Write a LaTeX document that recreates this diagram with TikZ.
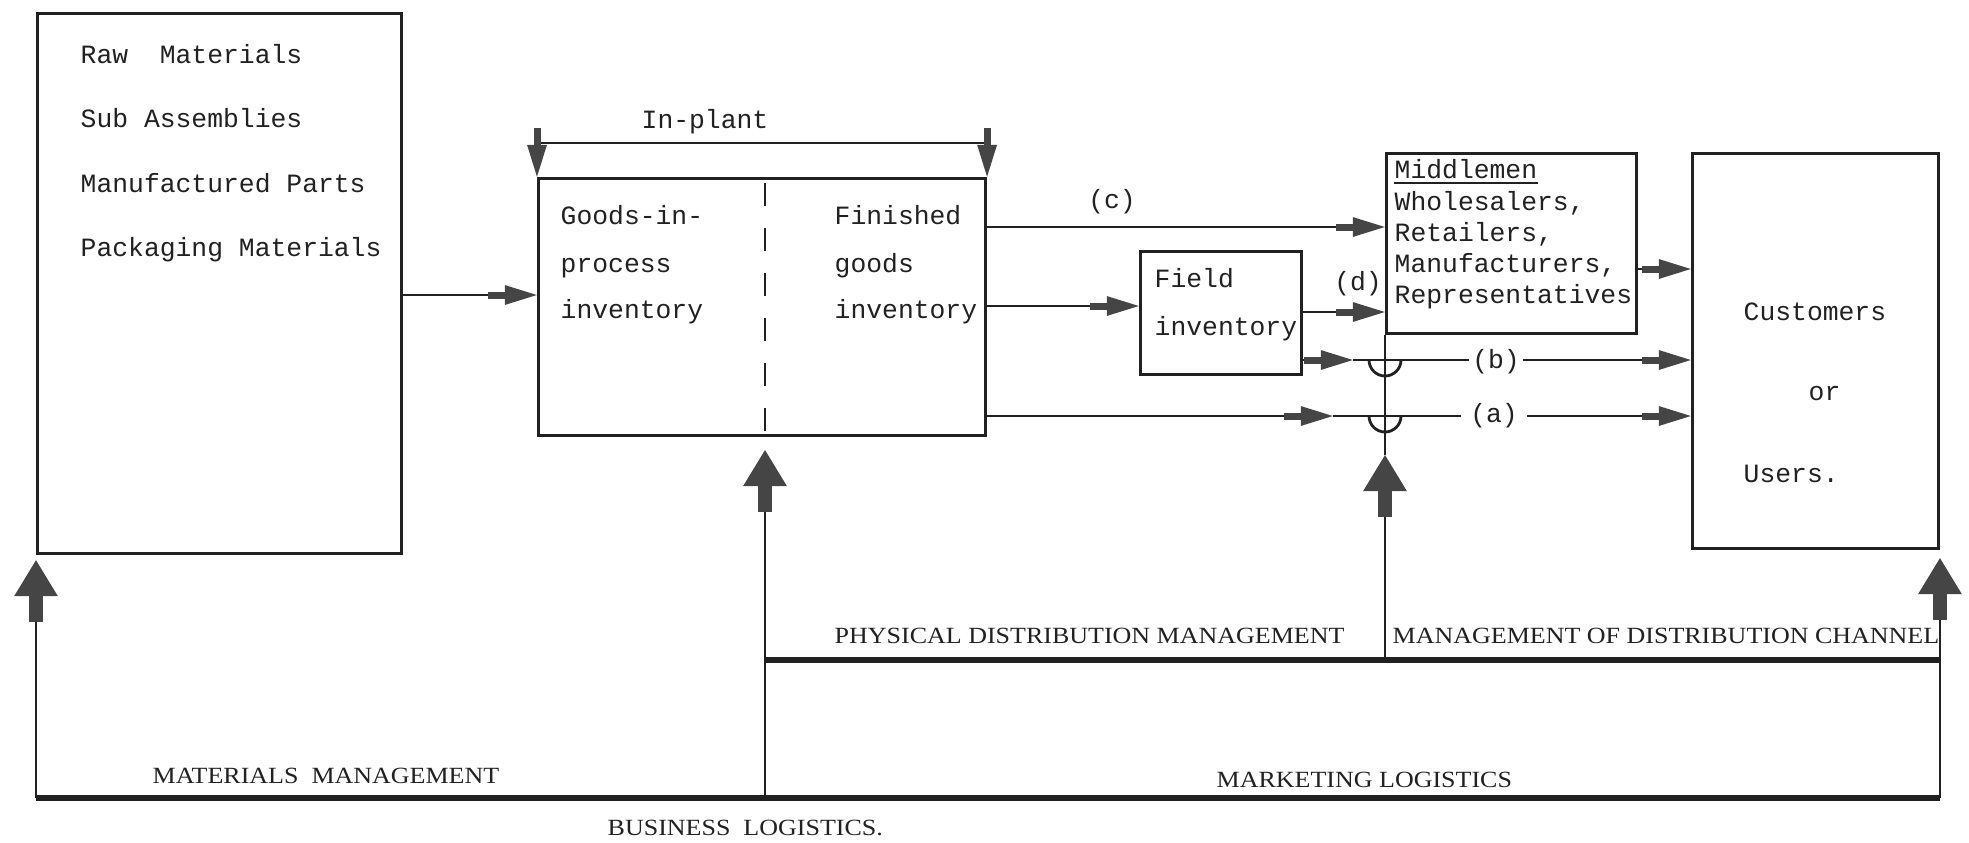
\documentclass[tikz,border=0pt]{standalone}
\usepackage{fontspec}
\usetikzlibrary{arrows.meta}
\newfontfamily\typefont{Liberation Mono}
\newfontfamily\capsfont[FakeStretch=1.12]{Liberation Serif}
\definecolor{ink}{gray}{0.13}
\definecolor{tipgray}{gray}{0.27}
\begin{document}
\begin{tikzpicture}[x=0.01cm,y=-0.01cm,
  box/.style={draw=ink, line width=0.8pt, inner sep=0pt, anchor=north west},
  txt/.style={inner sep=0pt, anchor=base west, text=ink,
    font=\typefont\fontsize{7.5pt}{9pt}\selectfont},
  tag/.style={txt, anchor=center, inner ysep=0pt},
  caplabel/.style={inner sep=0pt, anchor=base west, text=ink,
    font=\capsfont\fontsize{6.6pt}{8pt}\selectfont},
  link/.style={draw=ink, line width=0.8pt},
  flow/.style={link, -{Rectangle[length=0.17cm,width=0.07cm,sep=0pt,color=tipgray]
      Triangle[length=0.32cm,width=0.19cm,color=tipgray]}},
  lift/.style={link, -{Rectangle[length=0.26cm,width=0.145cm,sep=0pt,color=tipgray]
      Triangle[length=0.36cm,width=0.43cm,color=tipgray]}},
  rail/.style={draw=ink, line width=1.8pt},
  divider/.style={draw=ink, line width=0.65pt, dash pattern=on 0.23cm off 0.22cm, dash phase=0.39cm},
]
\useasboundingbox (0,0) rectangle (1969,842);

% ---- boxes ----
\node[box, minimum width=3.64cm, minimum height=5.40cm] (stock)  at (36,12)   {};
\node[box, minimum width=4.47cm, minimum height=2.57cm] (plant)  at (537,177) {};
\node[box, minimum width=1.61cm, minimum height=1.23cm] (field)  at (1139,250) {};
\node[box, minimum width=2.50cm, minimum height=1.80cm] (middle) at (1385,152) {};
\node[box, minimum width=2.46cm, minimum height=3.95cm] (users)  at (1691,152) {};

% ---- box texts ----
\node[txt] (raw)  at (80,63)  {Raw\ \ Materials};
\node[txt] (sub)  at (80,127) {Sub Assemblies};
\node[txt] (man)  at (80,192) {Manufactured Parts};
\node[txt] (pack) at (80,256) {Packaging Materials};

\node[txt, anchor=base] (inplant) at (705,128) {In-plant};
\node[txt] (gip1) at (560,224) {Goods-in-};
\node[txt] (gip2) at (560,272) {process};
\node[txt] (gip3) at (560,318) {inventory};
\node[txt] (fg1)  at (834,224) {Finished};
\node[txt] (fg2)  at (834,272) {goods};
\node[txt] (fg3)  at (834,318) {inventory};

\node[txt] (fi1) at (1154,287) {Field};
\node[txt] (fi2) at (1154,335) {inventory};

\node[txt] (mm)  at (1394,178) {Middlemen};
\node[txt] (mm1) at (1394,210) {Wholesalers,};
\node[txt] (mm2) at (1394,241) {Retailers,};
\node[txt] (mm3) at (1394,272) {Manufacturers,};
\node[txt] (mm4) at (1394,303) {Representatives};
\draw[link, line width=0.6pt] ([yshift=-0.05cm]mm.base west) -- ([yshift=-0.05cm]mm.base east);

\node[txt] (cu1) at (1743,320) {Customers};
\node[txt] (cu2) at (1808,400) {or};
\node[txt] (cu3) at (1743,482) {Users.};

% ---- material flow ----
\draw[flow] (stock.east |- 0,295) -- (plant.west |- 0,295);

\draw[link] (plant.north west |- 0,143) -- (plant.north east |- 0,143);
\draw[flow] (plant.north west |- 0,129) -- (plant.north west);
\draw[flow] (plant.north east |- 0,129) -- (plant.north east);

\draw[flow] (plant.east |- 0,227) -- (middle.west |- 0,227);
\node[txt, anchor=base] (lc) at (1112,208) {(c)};

\draw[flow] (plant.east |- 0,306) -- (field.west |- 0,306);

\draw[flow] (field.east |- 0,312) -- (middle.west |- 0,312);
\node[txt, anchor=base] (ld) at (1358,290) {(d)};

\draw[flow] (middle.east |- 0,269) -- (users.west |- 0,269);

% route (b)
\coordinate (bmid) at (1353,360);
\coordinate (hopb) at (middle.south west |- bmid);
\node[tag, inner xsep=0.03cm] (lb) at (1496,362) {(b)};
\draw[flow] (field.east |- bmid) -- (bmid);
\draw[link] (bmid) -- (lb.west |- bmid);
\draw[flow] (lb.east |- bmid) -- (users.west |- bmid);
\draw[link] (hopb) ++(-16,0) .. controls +(0,8.8) and +(-8.8,0) .. ++(16,16)
  .. controls +(8.8,0) and +(0,8.8) .. ++(16,-16);

% route (a)
\coordinate (amid) at (1333,416);
\coordinate (hopa) at (middle.south west |- amid);
\node[tag, inner xsep=0.09cm] (la) at (1494,416) {(a)};
\draw[flow] (plant.east |- amid) -- (amid);
\draw[link] (amid) -- (la.west |- amid);
\draw[flow] (la.east |- amid) -- (users.west |- amid);
\draw[link] (hopa) ++(-16,0) .. controls +(0,8.8) and +(-8.8,0) .. ++(16,16)
  .. controls +(8.8,0) and +(0,8.8) .. ++(16,-16);

% ---- management frame ----
\coordinate (baseL) at (stock.south west |- 0,798);
\coordinate (baseM) at (765,798);
\coordinate (baseR) at (users.south east |- 0,798);
\coordinate (pdmL)  at (765,660);
\coordinate (pdmR)  at (users.south east |- 0,660);
\coordinate (chanFoot) at (middle.south west |- pdmL);
\coordinate (plantTip) at (765,450);
\coordinate (chanTip)  at (middle.south west |- 0,455);

\draw[divider] (plant.north -| 765,0) -- (plantTip);
\draw[link] (middle.south west) -- (chanTip);

\draw[rail] (baseL) -- (baseR);
\draw[rail] (pdmL) -- (pdmR);

\draw[lift] (baseL) -- ([yshift=-0.05cm]stock.south west);
\draw[lift] (baseM) -- (plantTip);
\draw[lift] (chanFoot) -- (chanTip);
\draw[lift] (baseR) -- ([yshift=-0.08cm]users.south east);

% ---- management labels ----
\node[caplabel] (matm) at (152,783)  {MATERIALS\ \ MANAGEMENT};
\node[caplabel] (busl) at (607,835)  {BUSINESS\ \ LOGISTICS.};
\node[caplabel] (pdm)  at (834,643)  {PHYSICAL DISTRIBUTION MANAGEMENT};
\node[caplabel] (mdc)  at (1392,643) {MANAGEMENT OF DISTRIBUTION CHANNEL};
\node[caplabel] (mkl)  at (1216,787) {MARKETING LOGISTICS};
\end{tikzpicture}
\end{document}
